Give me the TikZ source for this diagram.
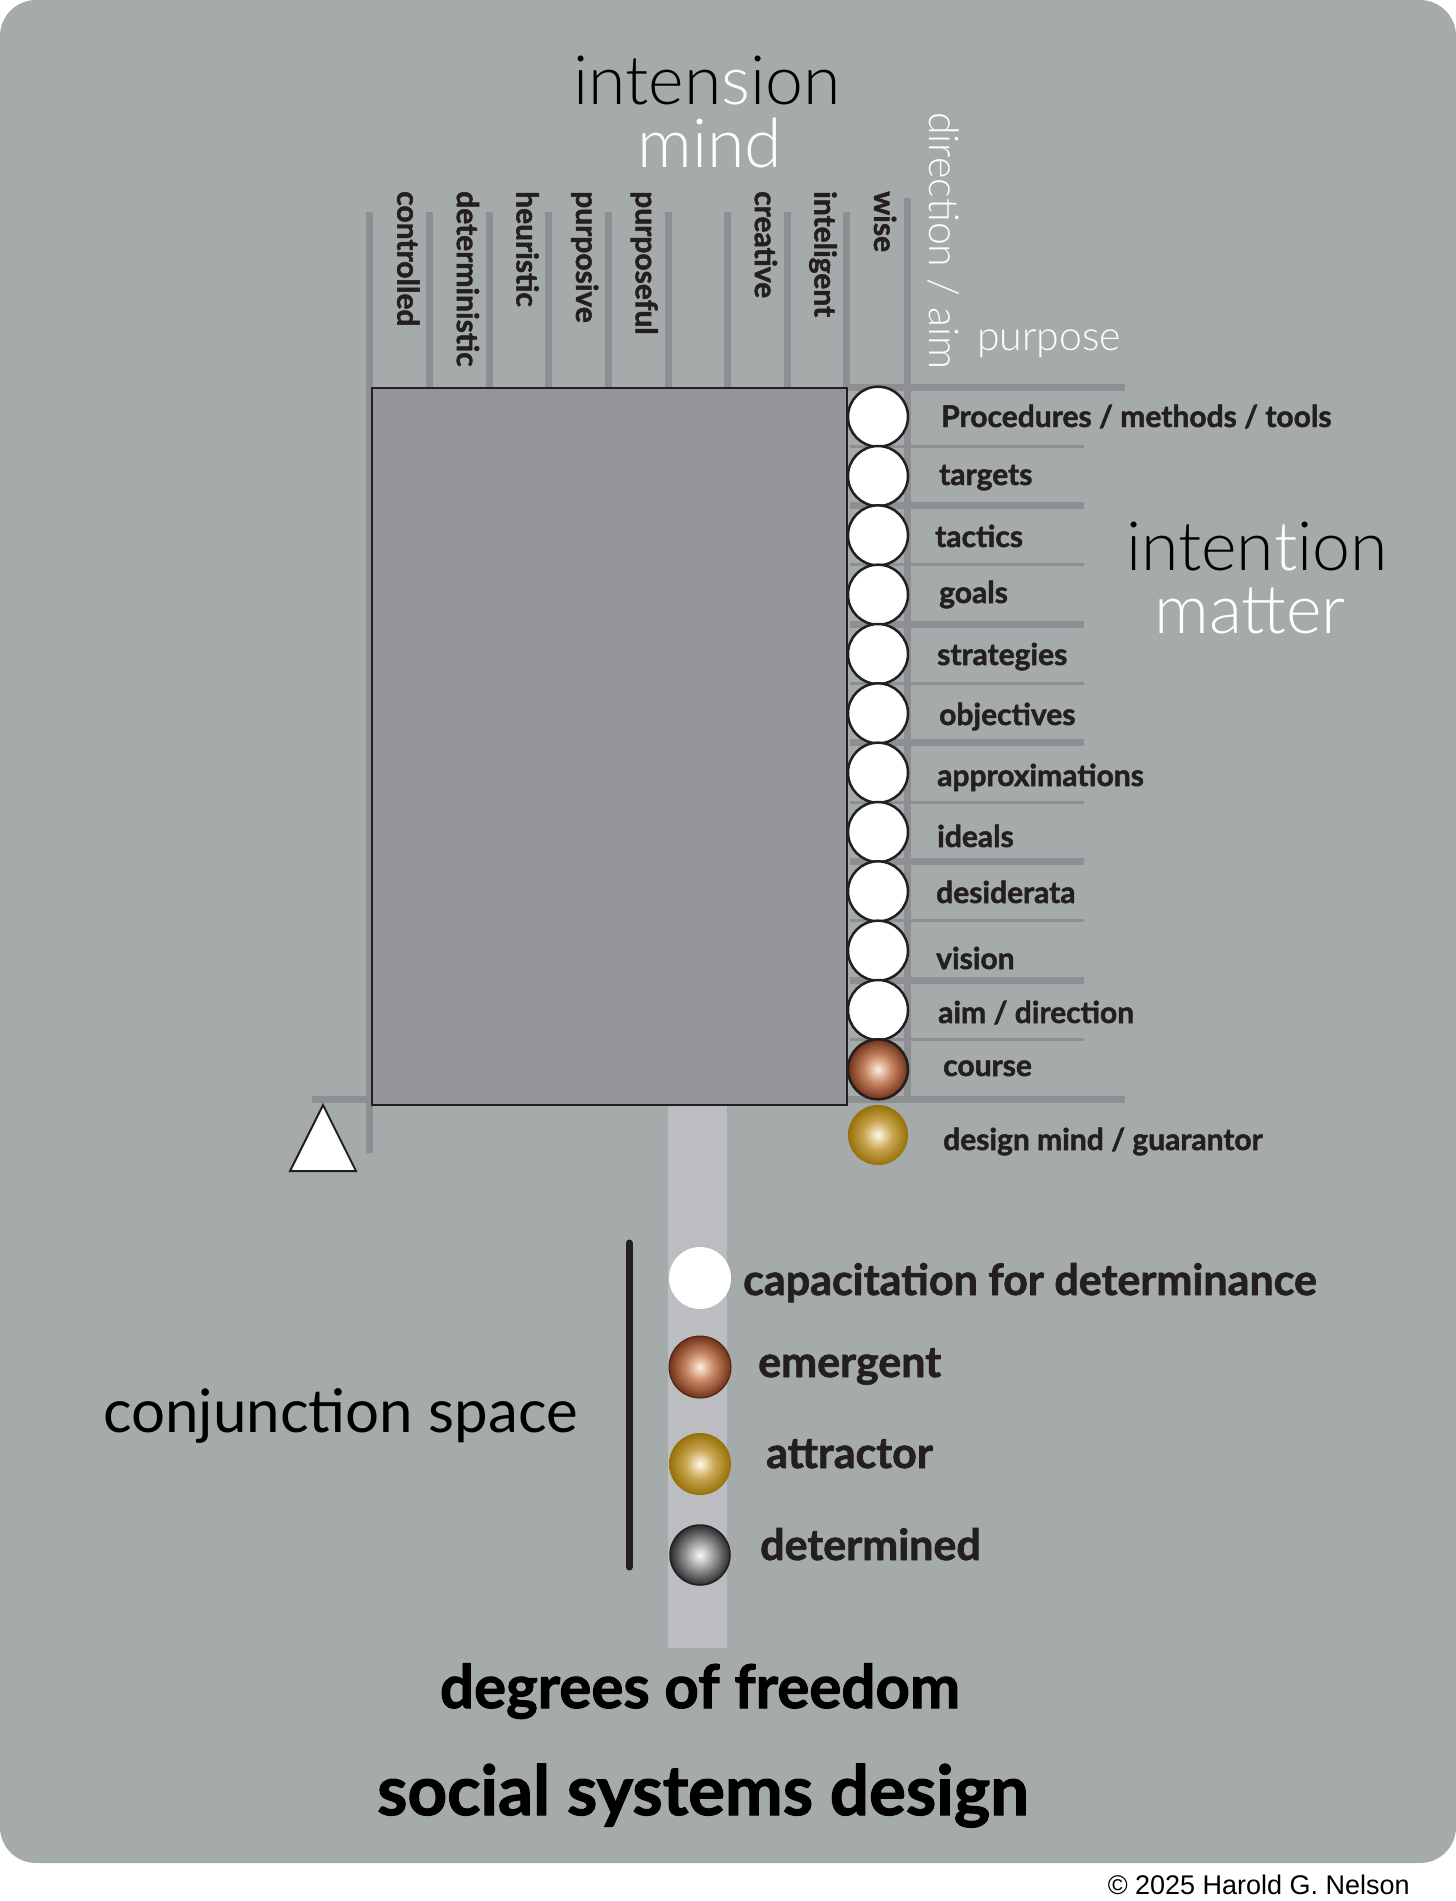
\documentclass[tikz,border=0pt]{standalone}
\usepackage{fontspec}
\setmainfont{Lato}[BoldFeatures={FakeBold=1.6}]
\newfontfamily\lightfont{Lato Light}
\newfontfamily\creditfont{Liberation Sans}

\definecolor{panelgray}{RGB}{165,170,170}
\definecolor{coregray}{RGB}{147,149,152}
\definecolor{linegray}{RGB}{141,143,146}
\definecolor{stripgray}{RGB}{187,189,192}
\definecolor{ink}{RGB}{35,31,32}
\definecolor{bronzein}{RGB}{252,238,222}
\definecolor{bronzemid}{RGB}{196,130,95}
\definecolor{bronzeout}{RGB}{112,50,25}
\definecolor{goldin}{RGB}{255,250,235}
\definecolor{goldmid}{RGB}{200,165,80}
\definecolor{goldout}{RGB}{150,112,8}
\definecolor{steelin}{RGB}{250,250,250}
\definecolor{steelmid}{RGB}{150,150,153}
\definecolor{steelout}{RGB}{45,45,48}

\pgfdeclareradialshading{bronzeball}{\pgfpoint{0bp}{0bp}}{color(0bp)=(bronzein); color(12bp)=(bronzemid); color(25bp)=(bronzeout); color(50bp)=(bronzeout)}
\pgfdeclareradialshading{goldball}{\pgfpoint{0bp}{0bp}}{color(0bp)=(goldin); color(12bp)=(goldmid); color(25bp)=(goldout); color(50bp)=(goldout)}
\pgfdeclareradialshading{steelball}{\pgfpoint{0bp}{0bp}}{color(0bp)=(steelin); color(12bp)=(steelmid); color(25bp)=(steelout); color(50bp)=(steelout)}

\tikzset{
    gridline/.style={draw=linegray, line width=7pt},
    thinline/.style={draw=linegray, line width=3pt},
    bead/.style={circle, minimum size=60pt, inner sep=0pt, draw=ink, line width=2.5pt, fill=white},
    ball/.style={circle, minimum size=60pt, inner sep=0pt, shade},
    collabel/.style={rotate=-90, anchor=mid west, inner sep=0pt, text=ink, font=\fontsize{30}{36}\selectfont\bfseries},
    rowlabel/.style={anchor=base west, inner sep=0pt, text=ink, font=\fontsize{30}{36}\selectfont\bfseries},
    legendlabel/.style={anchor=base west, inner sep=0pt, text=ink, font=\fontsize{43}{50}\selectfont\bfseries},
    thinword/.style={anchor=base, inner sep=0pt, text=black, font=\lightfont\fontsize{68}{80}\selectfont},
    airword/.style={inner sep=0pt, text=white, font=\lightfont\fontsize{41}{48}\selectfont},
}

\begin{document}
\begin{tikzpicture}[x=1pt, y=-1pt]
    \useasboundingbox (0,0) rectangle (1456,1901);
    % panel and strip
    \fill[panelgray, rounded corners=36pt] (0,0) rectangle (1456,1863);
    \fill[stripgray] (668,1100) rectangle (727,1648);

    % column lines
    \foreach \k in {1,...,8}
        \draw[gridline] ({370+59.6*\k},212) -- ({370+59.6*\k},390);
    \draw[gridline] (369,212) -- (369,1153);
    \draw[gridline] (907,198) -- (907,1099);
    % row lines
    \draw[gridline] (847,387) -- (1125,387);
    \draw[gridline] (312,1099) -- (1125,1099);
    \foreach \j in {2,4,...,10}
        \draw[gridline] (850,{387+59.33*\j}) -- (1084,{387+59.33*\j});
    \foreach \j in {1,3,...,11}
        \draw[thinline] (850,{387+59.33*\j}) -- (1084,{387+59.33*\j});

    % core box
    \node[draw=ink, fill=coregray, line width=2pt, inner sep=0pt, minimum width=475pt, minimum height=717pt, anchor=north west] (core) at (371,387) {};

    % column labels
    \foreach \i/\lab in {0/controlled, 1/deterministic, 2/heuristic, 3/purposive, 4/purposeful, 6/creative, 7/inteligent, 8/wise}
        \node[collabel] (col-\i) at ({399.8+59.6*\i},191) {\lab};

    % beads
    \foreach \row in {0,...,10}
        \node[bead] (bead-\row) at (878,{416.7+59.33*\row}) {};
    \node[ball, shading=bronzeball, draw=ink, line width=2.5pt] (bead-11) at (878,1069.3) {};
    \node[ball, shading=goldball] (guarantor) at (878,1135) {};

    % row labels
    \foreach \row/\xb/\yb/\lab in {0/941/427/{Procedures / methods / tools}, 1/939/485/targets, 2/935/547/tactics, 3/939/603/goals, 4/937/665/strategies, 5/939/725/objectives, 6/937/786/approximations, 7/937/847/ideals, 8/936/903/desiderata, 9/936/969/vision, 10/938/1023/{aim / direction}, 11/943/1076/course}
        \node[rowlabel] (row-\row) at (\xb,\yb) {\lab};
    \node[rowlabel] (row-guarantor) at (943,1150) {design mind / guarantor};

    % headings
    \node[thinword] (intension) at (707,104) {inten\textcolor{white}{s}ion};
    \node[thinword, text=white] (mind) at (710,167) {mind};
    \node[thinword] (intention) at (1257,570) {inten\textcolor{white}{t}ion};
    \node[thinword, text=white] (matter) at (1250,633) {matter};
    \node[airword, rotate=-90, anchor=base west] (aim) at (929,112) {direction / aim};
    \node[airword, anchor=base west] (purpose) at (977,350) {purpose};

    % triangle
    \draw[fill=white, draw=ink, line width=2pt] (323,1105) -- (356,1171) -- (290,1171) -- cycle;

    % legend
    \draw[ink, line width=7pt, line cap=round] (629,1243) -- (629,1567);
    \node[circle, fill=white, minimum size=62pt, inner sep=0pt] (capacitation) at (700,1278) {};
    \node[ball, minimum size=62pt, shading=bronzeball, draw=bronzeout!70!black, line width=1pt] (emergent) at (700,1367) {};
    \node[ball, minimum size=62pt, shading=goldball] (attractor) at (700,1464) {};
    \node[ball, shading=steelball, draw=ink, line width=1.5pt] (determined) at (700,1555) {};
    \node[legendlabel] (capacitation-text) at (743,1295) {capacitation for determinance};
    \node[legendlabel] (emergent-text) at (758,1377) {emergent};
    \node[legendlabel] (attractor-text) at (766,1468) {attractor};
    \node[legendlabel] (determined-text) at (760,1560) {determined};
    \node[anchor=base west, inner sep=0pt, text=black, font=\fontsize{60}{70}\selectfont] (conjunction) at (103,1432) {conjunction space};

    % bottom titles
    \node[anchor=base, inner sep=0pt, text=black, font=\fontsize{60}{70}\selectfont\bfseries] (freedom) at (700,1708) {degrees of freedom};
    \node[anchor=base, inner sep=0pt, text=black, font=\fontsize{69}{80}\selectfont\bfseries] (ssd) at (703,1815) {social systems design};
    \node[anchor=base east, inner sep=0pt, text=black, font=\creditfont\fontsize{27}{32}\selectfont] (credit) at (1410,1894) {© 2025 Harold G. Nelson};
\end{tikzpicture}
\end{document}
